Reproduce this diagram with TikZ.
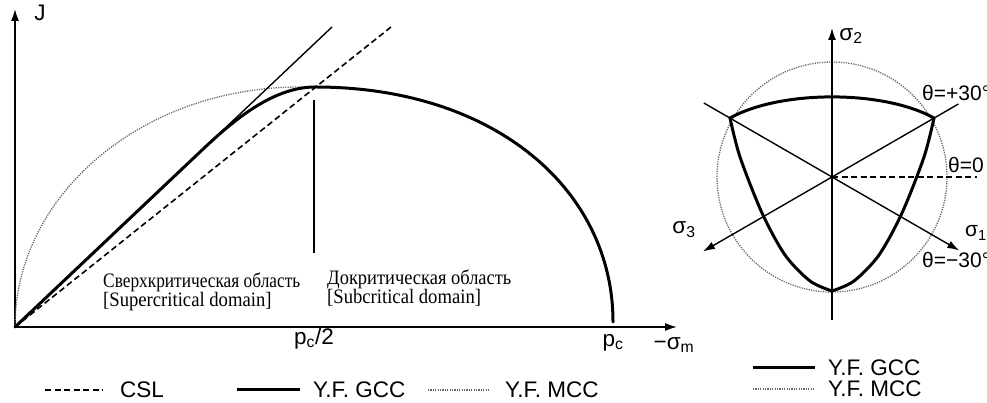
\documentclass[tikz,border=0pt]{standalone}
\usepackage{graphicx}
\usepackage{fontspec}
\setmainfont{Liberation Serif}
\newfontfamily\arialf{Liberation Sans}
\usetikzlibrary{arrows.meta}
\begin{document}
\begin{tikzpicture}[x=1pt,y=1pt,
  lab/.style={font=\arialf\fontsize{22.5}{26}\selectfont, inner sep=0pt},
  labs/.style={font=\arialf\fontsize{21}{24}\selectfont, inner sep=0pt, anchor=west},
  ser/.style={font=\fontsize{20.5}{22}\selectfont, inner sep=0pt, anchor=base west},
  tip/.style={-{Latex[length=12pt,width=8pt]}},
  axl/.style={line width=1.6pt},
  thinl/.style={line width=1.4pt},
  gcc/.style={line width=3pt, line join=round, line cap=round},
  mcc/.style={line width=1.3pt, black!60, dash pattern=on 1.2pt off 1.2pt},
  csl/.style={line width=1.6pt, dash pattern=on 6pt off 3.5pt},
]
\useasboundingbox (0,0) rectangle (987,403);
\fill[white] (0,0) rectangle (987,403);

% ---------- left diagram ----------
\coordinate (O) at (15,76);
\coordinate (P) at (315,316);
\coordinate (Ytip) at (15,394);
\coordinate (Xtip) at (677,76);
\coordinate (Tend) at (332,376);
\coordinate (Cend) at (391,376);
\coordinate (Pc) at (613,81);
\coordinate (Vtop) at (314,303);
\coordinate (Vbot) at (314,150);

\draw[axl,tip] (O) -- (Ytip);
\draw[axl,tip] (O) -- (Xtip);
\draw[mcc] (O) arc[start angle=180,end angle=90,x radius=285,y radius=240] -- (P);
\draw[thinl] (O) -- (Tend);
\draw[csl] (O) -- (Cend);
\draw[gcc] (O) -- (200,251) .. controls (228,277.5) and (270,316) .. (P)
  .. controls (495,316) and (613,213) .. (Pc);
\draw[thinl] (Vtop) -- (Vbot);

\node[lab] (J) at (40,390) {J};
\node[lab] (pc2) at (314,64) {p\textsubscript{c}/2};
\node[lab] (pc) at (613,60) {p\textsubscript{c}};
\node[lab] (sm) at (674,58) {−σ\textsubscript{m}};

\node[ser] (sup1) at (103,115) {\scalebox{0.845}[1]{Сверхкритическая область}};
\node[ser] (sup2) at (103,96) {\scalebox{0.91}[1]{[Supercritical domain]}};
\node[ser] (sub1) at (327,118) {\scalebox{0.9}[1]{Докритическая область}};
\node[ser] (sub2) at (327,99) {\scalebox{0.91}[1]{[Subcritical domain]}};

% left legend
\draw[csl] (45,13) -- (103,13);
\node[lab,anchor=west] (lcsl) at (120,13) {CSL};
\draw[gcc,line cap=butt] (237,13) -- (300,13);
\node[lab,anchor=west] (lgcc) at (313,13) {Y.F. GCC};
\draw[mcc] (428,13) -- (490,13);
\node[lab,anchor=west] (lmcc) at (505,13) {Y.F. MCC};

% ---------- right diagram ----------
\begin{scope}[shift={(832,226)}]
\coordinate (C) at (0,0);
\coordinate (UL) at (-102,59);
\coordinate (UR) at (102,59);
\coordinate (B) at (0,-114);
\draw[mcc] (C) circle[radius=115];
\draw[thinl,tip] (150:148) -- (330:147);
\draw[thinl,tip] (30:146) -- (210:149);
\draw[thinl,tip] (0,-143) -- (0,149);
\draw[csl] (C) -- (145,0);
\draw[gcc] (UL) .. controls +(29:58) and +(151:58) .. (UR);
\draw[gcc] plot[smooth,tension=0.5] coordinates {(-102,59) (-92,20) (-70,-36) (-47,-78) (-22,-104) (0,-114)};
\draw[gcc] plot[smooth,tension=0.5] coordinates {(102,59) (92,20) (70,-36) (47,-78) (22,-104) (0,-114)};
\end{scope}

\node[lab] (s2) at (851,367) {σ\textsubscript{2}};
\node[labs] (tp) at (922,310) {θ=+30°};
\node[labs] (t0) at (948,238) {θ=0};
\node[labs] (s1) at (965,170) {σ\textsubscript{1}};
\node[labs] (tm) at (922,143) {θ=−30°};
\node[lab] (s3) at (684,173) {σ\textsubscript{3}};

% right legend
\draw[gcc,line cap=butt] (753,35) -- (815,35);
\node[lab,anchor=west] (rgcc) at (828,35) {Y.F. GCC};
\draw[mcc] (753,14) -- (815,14);
\node[lab,anchor=west] (rmcc) at (828,14) {Y.F. MCC};
\end{tikzpicture}
\end{document}
